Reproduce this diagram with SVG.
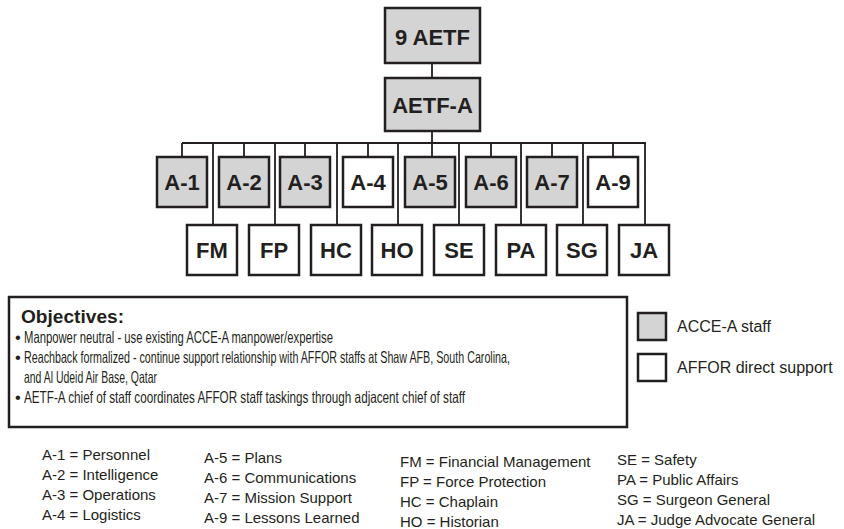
<svg xmlns="http://www.w3.org/2000/svg" width="844" height="529" viewBox="0 0 844 529">
<style>
.box{stroke:#231f20;stroke-width:2.5;fill:#fff}
.g{fill:#d4d4d4}
.lbl{font-family:"Liberation Sans",Arial,sans-serif;font-weight:bold;font-size:22px;fill:#231f20;text-anchor:middle}
.con{stroke:#231f20;stroke-width:1.8;fill:none}
.obj{font-family:"Liberation Sans",Arial,sans-serif;font-size:16.5px;fill:#231f20}
.ab{font-family:"Liberation Sans",Arial,sans-serif;font-size:15px;fill:#231f20}
.leg{font-family:"Liberation Sans",Arial,sans-serif;font-size:16px;fill:#231f20}
</style>
<rect width="844" height="529" fill="#fff"/>
<g id="connectors" class="con">
<path d="M432,63V78M432,131V157M182,143H646"/>
<path d="M182,143V157M244,143V157M305,143V157M368,143V157M552,143V157M613,143V157M491,143V157"/>
<path d="M213,143V225M275,143V225M337,143V225M398,143V225M459,143V225M521,143V225M583,143V225M645,143V225"/>
</g>
<g id="n-9aetf"><rect class="box g" x="385" y="8" width="95" height="55"/><text class="lbl" x="432.5" y="45">9 AETF</text></g>
<g id="n-aetfa"><rect class="box g" x="385" y="78" width="95" height="53"/><text class="lbl" x="432.5" y="113">AETF-A</text></g>
<g id="n-a1"><rect class="box g" x="157" y="157" width="50" height="50"/><text class="lbl" x="182" y="190">A-1</text></g>
<g id="n-a2"><rect class="box g" x="219" y="157" width="50" height="50"/><text class="lbl" x="244" y="190">A-2</text></g>
<g id="n-a3"><rect class="box g" x="280" y="157" width="50" height="50"/><text class="lbl" x="305" y="190">A-3</text></g>
<g id="n-a4"><rect class="box" x="343" y="157" width="50" height="50"/><text class="lbl" x="368" y="190">A-4</text></g>
<g id="n-a5"><rect class="box g" x="405" y="157" width="50" height="50"/><text class="lbl" x="430" y="190">A-5</text></g>
<g id="n-a6"><rect class="box g" x="466" y="157" width="50" height="50"/><text class="lbl" x="491" y="190">A-6</text></g>
<g id="n-a7"><rect class="box g" x="527" y="157" width="50" height="50"/><text class="lbl" x="552" y="190">A-7</text></g>
<g id="n-a9"><rect class="box" x="588" y="157" width="50" height="50"/><text class="lbl" x="613" y="190">A-9</text></g>
<g id="n-fm"><rect class="box" x="187" y="225" width="50" height="50"/><text class="lbl" x="212" y="258">FM</text></g>
<g id="n-fp"><rect class="box" x="249" y="225" width="50" height="50"/><text class="lbl" x="274" y="258">FP</text></g>
<g id="n-hc"><rect class="box" x="311" y="225" width="50" height="50"/><text class="lbl" x="336" y="258">HC</text></g>
<g id="n-ho"><rect class="box" x="372" y="225" width="50" height="50"/><text class="lbl" x="397" y="258">HO</text></g>
<g id="n-se"><rect class="box" x="434" y="225" width="50" height="50"/><text class="lbl" x="459" y="258">SE</text></g>
<g id="n-pa"><rect class="box" x="496" y="225" width="50" height="50"/><text class="lbl" x="521" y="258">PA</text></g>
<g id="n-sg"><rect class="box" x="557" y="225" width="50" height="50"/><text class="lbl" x="582" y="258">SG</text></g>
<g id="n-ja"><rect class="box" x="619" y="225" width="50" height="50"/><text class="lbl" x="644" y="258">JA</text></g>
<g id="objectives">
<rect class="box" x="9" y="297" width="618" height="130"/>
<text x="21" y="323" font-family="Liberation Sans,Arial,sans-serif" font-weight="bold" font-size="18" fill="#231f20" textLength="103" lengthAdjust="spacingAndGlyphs">Objectives:</text>
<text class="obj" x="15" y="343">•</text>
<text class="obj" x="24" y="343" textLength="309" lengthAdjust="spacingAndGlyphs">Manpower neutral - use existing ACCE-A manpower/expertise</text>
<text class="obj" x="15" y="363">•</text>
<text class="obj" x="24" y="363" textLength="486" lengthAdjust="spacingAndGlyphs">Reachback formalized - continue support relationship with AFFOR staffs at Shaw AFB, South Carolina,</text>
<text class="obj" x="24" y="383" textLength="133" lengthAdjust="spacingAndGlyphs">and Al Udeid Air Base, Qatar</text>
<text class="obj" x="15" y="403">•</text>
<text class="obj" x="24" y="403" textLength="441" lengthAdjust="spacingAndGlyphs">AETF-A chief of staff coordinates AFFOR staff taskings through adjacent chief of staff</text>
</g>
<g id="legend">
<rect class="box g" x="638" y="313" width="28" height="27"/>
<text class="leg" x="677" y="332">ACCE-A staff</text>
<rect class="box" x="638" y="354" width="28" height="27"/>
<text class="leg" x="677" y="373">AFFOR direct support</text>
</g>
<g id="abbreviations" class="ab">
<text x="42" y="460">A-1 = Personnel</text>
<text x="42" y="480">A-2 = Intelligence</text>
<text x="42" y="500">A-3 = Operations</text>
<text x="42" y="520">A-4 = Logistics</text>
<text x="204" y="463">A-5 = Plans</text>
<text x="204" y="483">A-6 = Communications</text>
<text x="204" y="503">A-7 = Mission Support</text>
<text x="204" y="523">A-9 = Lessons Learned</text>
<text x="400" y="467">FM = Financial Management</text>
<text x="400" y="487">FP = Force Protection</text>
<text x="400" y="507">HC = Chaplain</text>
<text x="400" y="527">HO = Historian</text>
<text x="617" y="465">SE = Safety</text>
<text x="617" y="485">PA = Public Affairs</text>
<text x="617" y="505">SG = Surgeon General</text>
<text x="617" y="525">JA = Judge Advocate General</text>
</g>
</svg>
